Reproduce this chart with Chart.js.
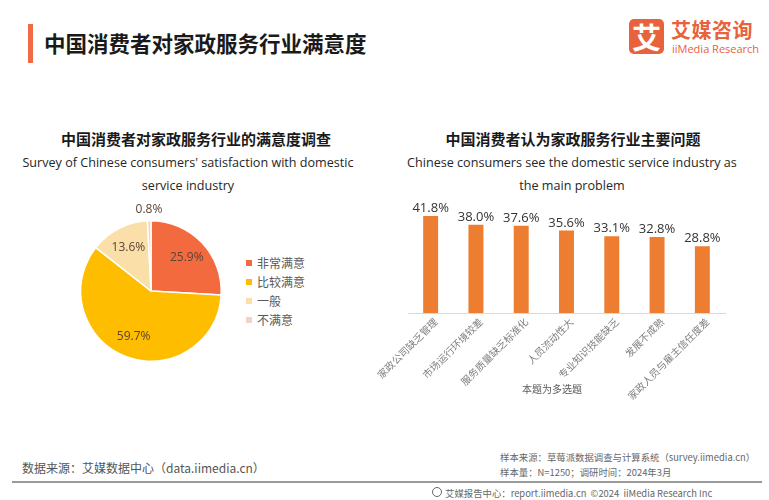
<!DOCTYPE html>
<html>
<head>
<meta charset="utf-8">
<script src="https://cdn.jsdelivr.net/npm/chart.js@4/dist/chart.umd.min.js"></script>
<style>
  body { margin: 0; width: 769px; height: 500px; background: #fff; position: relative; overflow: hidden;
         font-family: "Noto Sans CJK SC", "Noto Sans", sans-serif; color: #262626; }
  .abs { position: absolute; white-space: nowrap; }
  #bar-mark { left: 28px; top: 24px; width: 5px; height: 39px; background: #f06a45; }
  #main-title { left: 44px; top: 28px; font-size: 21.5px; font-weight: bold; color: #1a1a1a; line-height: 30px; }
  #logo-box { left: 629px; top: 19px; width: 35px; height: 35px; background: #e8623d; border-radius: 5px;
              color: #fff; font-size: 29px; font-weight: bold; text-align: center; line-height: 35px; }
  #logo-cn { left: 671px; top: 17px; font-size: 20px; font-weight: bold; color: #e8623d; line-height: 26px; letter-spacing: 0.5px; }
  #logo-en { left: 672px; top: 42px; font-size: 11px; color: #e8623d; line-height: 13px; font-family: "Liberation Sans Narrow", "Open Sans", sans-serif; }
  .sub-cn { font-size: 15px; font-weight: bold; color: #1a1a1a; text-align: center; line-height: 20px; }
  .sub-en { font-size: 12.6px; color: #262626; text-align: center; line-height: 23px; font-family: "Open Sans", sans-serif; }
  .legend-item { font-size: 12px; color: #595959; line-height: 16px; }
  .legend-item span { display: inline-block; width: 6px; height: 6px; margin-right: 5px; vertical-align: 2px; }
  #note { left: 500px; top: 381px; width: 104px; text-align: center; font-size: 10px; color: #595959; }
  .foot { font-size: 12px; color: #555; }
  .foot-s { font-size: 9.4px; color: #666; font-family: "Liberation Sans Narrow", "Noto Sans CJK SC", sans-serif; }
  #rule { left: 12px; top: 481px; width: 750px; height: 1.5px; background: #9a9a9a; }
  #globe { left: 432px; top: 487px; width: 8px; height: 8px; border: 1.3px solid #666; border-radius: 50%; }
</style>
</head>
<body>
<div class="abs" id="bar-mark"></div>
<div class="abs" id="main-title">中国消费者对家政服务行业满意度</div>
<div class="abs" id="logo-box">艾</div>
<div class="abs" id="logo-cn">艾媒咨询</div>
<div class="abs" id="logo-en">iiMedia Research</div>

<div class="abs sub-cn" style="left:16px;top:129px;width:360px;">中国消费者对家政服务行业的满意度调查</div>
<div class="abs sub-en" style="left:8px;top:151px;width:360px;">Survey of Chinese consumers' satisfaction with domestic<br>service industry</div>
<div class="abs sub-cn" style="left:393px;top:129px;width:360px;">中国消费者认为家政服务行业主要问题</div>
<div class="abs sub-en" style="left:392px;top:151px;width:360px;">Chinese consumers see the domestic service industry as<br>the main problem</div>

<canvas id="pie-chart" class="abs" style="left:60px;top:190px;" width="182" height="202"></canvas>
<div id="pie-legend" class="abs" style="left:246px;top:255px;"></div>

<canvas id="bar-chart" class="abs" style="left:370px;top:180px;" width="370" height="235"></canvas>
<div class="abs" id="note">本题为多选题</div>

<div class="abs foot" style="left:22px;top:459px;">数据来源：艾媒数据中心（data.iimedia.cn）</div>
<div class="abs foot-s" style="left:500px;top:450px;">样本来源：草莓派数据调查与计算系统（survey.iimedia.cn）</div>
<div class="abs foot-s" style="left:500px;top:465px;">样本量：N=1250；调研时间：2024年3月</div>
<div class="abs" id="rule"></div>
<div class="abs" id="globe"></div>
<div class="abs foot-s" style="left:445px;top:486px;">艾媒报告中心：report.iimedia.cn &nbsp;©2024 &nbsp;iiMedia Research Inc</div>

<script>
// Satisfaction survey (pie)
const satisfactionLabels = ['非常满意', '比较满意', '一般', '不满意'];
const satisfactionValues = [25.9, 59.7, 13.6, 0.8];
const satisfactionColors = ['#f46a3f', '#ffbd00', '#fadfa8', '#f0d3c5'];

// Main problems (bar)
const problemLabels = ['家政公司缺乏管理', '市场运行环境较差', '服务质量缺乏标准化', '人员流动性大',
  '专业知识技能缺乏', '发展不成熟', '家政人员与雇主信任度差'];
const problemValues = [41.8, 38.0, 37.6, 35.6, 33.1, 32.8, 28.8];
const barColor = '#ed7d31';

// HTML legend from the pie arrays
const legend = document.getElementById('pie-legend');
satisfactionLabels.forEach((label, i) => {
  const item = document.createElement('div');
  item.className = 'legend-item';
  item.style.marginBottom = '3px';
  item.innerHTML = `<span style="background:${satisfactionColors[i]}"></span>${label}`;
  legend.appendChild(item);
});

// Percent labels on pie slices
const pieLabels = {
  id: 'pieLabels',
  afterDatasetsDraw(chart) {
    const ctx = chart.ctx;
    const arcs = chart.getDatasetMeta(0).data;
    ctx.save();
    ctx.font = '12px "Open Sans", sans-serif';
    ctx.fillStyle = '#5a4536';
    ctx.textAlign = 'center';
    ctx.textBaseline = 'middle';
    arcs.forEach((arc, i) => {
      const v = satisfactionValues[i];
      const mid = (arc.startAngle + arc.endAngle) / 2;
      const f = v < 3 ? 1.16 : 0.7;
      const x = arc.x + Math.cos(mid) * arc.outerRadius * f;
      const y = arc.y + Math.sin(mid) * arc.outerRadius * f;
      ctx.fillText(v.toFixed(1) + '%', x, y);
    });
    ctx.restore();
  }
};

new Chart(document.getElementById('pie-chart'), {
  type: 'pie',
  data: {
    labels: satisfactionLabels,
    datasets: [{
      data: satisfactionValues,
      backgroundColor: satisfactionColors,
      borderColor: '#ffffff',
      borderWidth: 1.5,
    }],
  },
  options: {
    responsive: false,
    animation: false,
    layout: { padding: { left: 20, right: 20, top: 30, bottom: 30 } },
    plugins: { legend: { display: false }, tooltip: { enabled: false } },
  },
  plugins: [pieLabels],
});

// Value labels + rotated category labels for the bars
const barLabels = {
  id: 'barLabels',
  afterDatasetsDraw(chart) {
    const ctx = chart.ctx;
    const bars = chart.getDatasetMeta(0).data;
    const xScale = chart.scales.x;
    ctx.save();
    ctx.font = '13px "Open Sans", sans-serif';
    ctx.fillStyle = '#333333';
    ctx.textAlign = 'center';
    ctx.textBaseline = 'bottom';
    bars.forEach((bar, i) => {
      ctx.fillText(problemValues[i].toFixed(1) + '%', bar.x, bar.y - 1);
    });
    ctx.font = '10px "Noto Sans CJK SC", sans-serif';
    ctx.fillStyle = '#7f7f7f';
    ctx.textAlign = 'right';
    ctx.textBaseline = 'middle';
    problemLabels.forEach((label, i) => {
      const x = xScale.getPixelForTick(i);
      ctx.save();
      ctx.translate(x + 5, xScale.top + 7);
      ctx.rotate(-Math.PI / 4);
      ctx.fillText(label, 0, 0);
      ctx.restore();
    });
    ctx.restore();
  }
};

new Chart(document.getElementById('bar-chart'), {
  type: 'bar',
  data: {
    labels: problemLabels,
    datasets: [{
      data: problemValues,
      backgroundColor: barColor,
      barPercentage: 0.33,
      categoryPercentage: 1,
    }],
  },
  options: {
    responsive: false,
    animation: false,
    layout: { padding: { left: 38, right: 15, top: 17, bottom: 0 } },
    plugins: { legend: { display: false }, tooltip: { enabled: false } },
    scales: {
      x: {
        grid: { display: false },
        border: { color: '#d9d9d9', width: 1 },
        ticks: { display: false },
        afterFit: (scale) => { scale.height = 102; },
      },
      y: { display: false, min: 0, max: 50 },
    },
  },
  plugins: [barLabels],
});
</script>
</body>
</html>
